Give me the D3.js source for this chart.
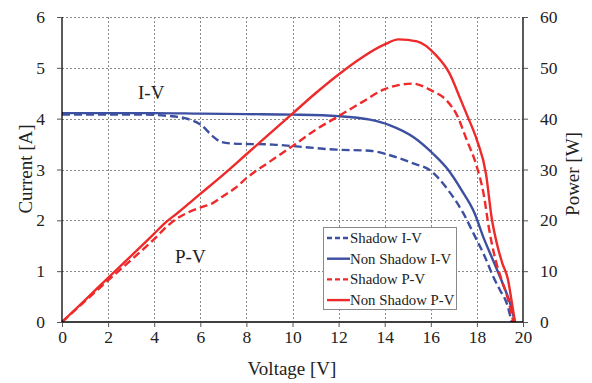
<!DOCTYPE html>
<html>
<head>
<meta charset="utf-8">
<script src="https://cdn.jsdelivr.net/npm/d3@7"></script>
<style>
  body { margin: 0; background: #fff; }
  svg { font-family: "Liberation Serif", "Times New Roman", serif; }
</style>
</head>
<body>
<div id="chart"></div>
<script>
// voltage [V] / current [A] / power [W]
const shadowIV_V = [0, 2, 3.4, 4.7, 5.56, 6.06, 6.5, 6.92, 7.43, 9.16, 10.03, 11.92, 13.36, 14.23, 15.24, 15.95, 16.76, 17.41, 17.92, 18.35, 18.71, 19.0, 19.29, 19.51];
const shadowIV_I = [4.08, 4.08, 4.08, 4.05, 3.98, 3.87, 3.67, 3.54, 3.51, 3.49, 3.46, 3.39, 3.37, 3.28, 3.12, 2.99, 2.59, 2.14, 1.68, 1.28, 0.89, 0.63, 0.37, 0];

const nonShadowIV_V = [0, 2, 4, 6, 8, 10, 12, 13.36, 14.23, 15.24, 16.1, 16.76, 17.34, 17.9, 18.27, 18.64, 19.0, 19.29, 19.44, 19.65];
const nonShadowIV_I = [4.11, 4.11, 4.11, 4.1, 4.09, 4.08, 4.05, 3.98, 3.87, 3.64, 3.31, 2.99, 2.59, 2.14, 1.68, 1.28, 0.89, 0.56, 0.37, 0];

const shadowPV_V = [0, 1, 2, 3, 4, 4.6, 5, 5.5, 6, 6.5, 7, 7.5, 8, 9, 10, 11, 12, 13, 14, 14.6, 15.2, 16, 16.7, 17.1, 17.56, 18, 18.3, 18.52, 18.77, 19.07, 19.36, 19.58];
const shadowPV_P = [0, 4.1, 8.2, 12.2, 16.3, 19, 20.4, 21.6, 22.5, 23.3, 24.8, 26.3, 28.3, 31.5, 34.6, 37.8, 40.5, 43.2, 45.8, 46.6, 46.9, 45.6, 43.5, 41, 35.8, 30.5, 25, 18.5, 12.9, 8.3, 4.3, 0];

const nonShadowPV_V = [0, 1, 2, 3, 4, 4.5, 5, 6, 7, 8, 9, 10, 11, 12, 13, 14, 14.6, 15.4, 16.2, 16.8, 17.3, 17.6, 18, 18.4, 18.64, 18.9, 19.1, 19.35, 19.5, 19.65];
const nonShadowPV_P = [0, 4.3, 8.7, 13, 17.4, 19.6, 21.4, 25.2, 29, 33, 37, 41, 45, 48.7, 52, 54.6, 55.6, 55.2, 52.6, 49, 43.7, 40.4, 35.8, 29, 20.5, 14.8, 11.6, 8.3, 4.3, 0];

const xTicks = [0, 2, 4, 6, 8, 10, 12, 14, 16, 18, 20];
const iTicks = [0, 1, 2, 3, 4, 5, 6];
const pTicks = [0, 10, 20, 30, 40, 50, 60];

const legendLabels = ["Shadow I-V", "Non Shadow I-V", "Shadow P-V", "Non Shadow P-V"];

const W = 592, H = 383;
const blue = "#3d4fa1", red = "#ee2a2a";
const serif = "'Liberation Serif', 'Times New Roman', serif";

const svg = d3.select("#chart").append("svg")
  .attr("width", W)
  .attr("height", H);

const x = d3.scaleLinear().domain([0, 20]).range([62, 523]);
const yI = d3.scaleLinear().domain([0, 6]).range([322, 17]);
const yP = d3.scaleLinear().domain([0, 60]).range([322, 17]);

// grid
const grid = svg.append("g")
  .attr("stroke", "#8a8a8a")
  .attr("stroke-width", 1)
  .attr("stroke-dasharray", "2,2");

grid.selectAll(".vg").data(xTicks.slice(1, -1)).join("line")
  .attr("x1", d => Math.round(x(d)) + 0.5).attr("x2", d => Math.round(x(d)) + 0.5)
  .attr("y1", yI(6)).attr("y2", yI(0));

grid.selectAll(".hg").data(iTicks.slice(1)).join("line")
  .attr("x1", x(0)).attr("x2", x(20))
  .attr("y1", d => Math.round(yI(d)) + 0.5).attr("y2", d => Math.round(yI(d)) + 0.5);

// curves
const line = d3.line().curve(d3.curveMonotoneX);

function addCurve(vs, ys, yScale, color, dashed) {
  const pts = vs.map((v, i) => [x(v), yScale(ys[i])]);
  svg.append("path")
    .attr("d", line(pts))
    .attr("fill", "none")
    .attr("stroke", color)
    .attr("stroke-width", 2.4)
    .attr("stroke-dasharray", dashed ? "8,4" : null);
}

addCurve(shadowIV_V, shadowIV_I, yI, blue, true);
addCurve(nonShadowIV_V, nonShadowIV_I, yI, blue, false);
addCurve(shadowPV_V, shadowPV_P, yP, red, true);
addCurve(nonShadowPV_V, nonShadowPV_P, yP, red, false);

// axes
const fs = "17.5px";
const fmt = d3.format("d");

const xAxis = svg.append("g")
  .attr("transform", `translate(0,${yI(0)})`)
  .call(d3.axisBottom(x).tickValues(xTicks).tickFormat(fmt).tickSize(5).tickPadding(4));

const leftAxis = svg.append("g")
  .attr("transform", `translate(${x(0)},0)`)
  .call(d3.axisLeft(yI).tickValues(iTicks).tickFormat(fmt).tickSize(5).tickPadding(12));

const rightAxis = svg.append("g")
  .attr("transform", `translate(${x(20)},0)`)
  .call(d3.axisRight(yP).tickValues(pTicks).tickFormat(fmt).tickSize(5).tickPadding(12));

[xAxis, leftAxis, rightAxis].forEach(g => {
  g.attr("font-family", serif);
  g.select(".domain").attr("stroke", "#000").attr("stroke-width", 1.3);
  g.selectAll(".tick line").attr("stroke", "#555");
  g.selectAll(".tick text")
    .attr("font-size", fs)
    .attr("fill", "#222");
});
xAxis.select(".domain").attr("d", `M${x(0)},0H${x(20)}`);
leftAxis.select(".domain").attr("d", `M0,${yI(6)}V${yI(0)}`);
rightAxis.select(".domain").attr("d", `M0,${yP(60)}V${yP(0)}`);

// axis titles
svg.append("text")
  .attr("x", 292).attr("y", 375)
  .attr("text-anchor", "middle")
  .attr("font-size", "19px").attr("fill", "#222")
  .text("Voltage [V]");

svg.append("text")
  .attr("transform", "translate(32,169) rotate(-90)")
  .attr("text-anchor", "middle")
  .attr("font-size", "19px").attr("fill", "#222")
  .text("Current [A]");

svg.append("text")
  .attr("transform", "translate(579,174) rotate(-90)")
  .attr("text-anchor", "middle")
  .attr("font-size", "19px").attr("fill", "#222")
  .text("Power [W]");

// curve labels
svg.append("text")
  .attr("x", 138).attr("y", 99)
  .attr("font-size", "19px").attr("fill", "#222")
  .text("I-V");

svg.append("rect")
  .attr("x", 171).attr("y", 241).attr("width", 42).attr("height", 26)
  .attr("fill", "#fff");
svg.append("text")
  .attr("x", 175).attr("y", 263)
  .attr("font-size", "19px").attr("fill", "#222")
  .text("P-V");

// legend
const legend = svg.append("g");
legend.append("rect")
  .attr("x", 323.5).attr("y", 227.5)
  .attr("width", 133).attr("height", 82)
  .attr("fill", "#fff")
  .attr("stroke", "#8a8a8a")
  .attr("stroke-width", 1);

const legendColors = [blue, blue, red, red];
const legendDashed = [true, false, true, false];

legendLabels.forEach((label, i) => {
  const cy = 238 + i * 20.7;
  legend.append("line")
    .attr("x1", 327).attr("x2", 350)
    .attr("y1", cy).attr("y2", cy)
    .attr("stroke", legendColors[i])
    .attr("stroke-width", 2.4)
    .attr("stroke-dasharray", legendDashed[i] ? "5,3" : null);
  legend.append("text")
    .attr("x", 350).attr("y", cy + 5)
    .attr("font-size", "14.8px").attr("fill", "#222")
    .text(label);
});
</script>
</body>
</html>
